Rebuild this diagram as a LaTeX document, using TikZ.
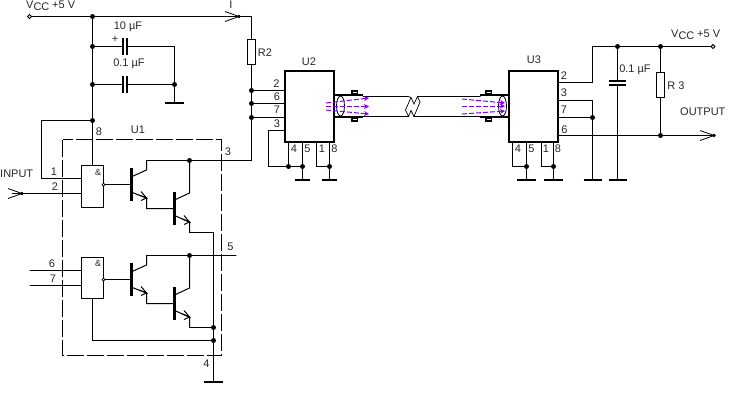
\documentclass[tikz,border=0pt]{standalone}
\usepackage{fontspec}
\setmainfont{Liberation Sans}
\usetikzlibrary{arrows.meta,calc}
\definecolor{beamviolet}{RGB}{128,0,255}
\tikzset{
    wire/.style={line width=1pt, line cap=round, line join=miter},
    dot/.style={circle, fill=black, inner sep=0pt, minimum size=5pt},
    terminal/.style={circle, draw, fill=white, line width=0.9pt, inner sep=0pt, minimum size=3.8pt},
    chip/.style={draw, line width=2pt, inner sep=0pt},
    gatebox/.style={draw, line width=1pt, inner sep=0pt},
    resistor/.style={draw, fill=white, line width=1pt, inner sep=0pt, minimum width=8pt, minimum height=25pt},
    bubble/.style={circle, draw, fill=white, line width=0.7pt, inner sep=0pt, minimum size=3pt},
    lab/.style={inner sep=0pt, font=\fontsize{11}{13}\selectfont, text=black!85},
    plate/.style={line width=1.7pt},
    base/.style={line width=3pt},
    beam/.style={draw=beamviolet, line width=1pt, dash pattern=on 5pt off 2pt, -{Stealth[length=5pt,width=5pt]}}
}
% one open input or output arrow, tip at #1
\newcommand{\openarrow}[1]{
    \draw[line width=0.8pt] ($(#1)+(-14,-5)$) -- (#1) -- ($(#1)+(-14,5)$);
    \draw[line width=0.8pt] ($(#1)+(-10,0)$) -- (#1);
    \node[dot, minimum size=3.6pt] at (#1) {};
}
% one darlington pair, shifted down by #1
\newcommand{\darlington}[1]{
    \begin{scope}[shift={(0,#1)}]
        \draw[base] (131,168) -- (131,201);
        \draw[wire] (131,177) -- (146.5,170) -- (146.5,160.5);
        \draw[wire] (131,192) -- (146.5,198) -- (146.5,208.5) -- (174.5,208.5);
        \draw[base] (174.5,192) -- (174.5,225);
        \draw[wire] (174.5,200) -- (189.5,193) -- (189.5,160.5);
        \draw[wire] (174.5,215.5) -- (189.5,222) -- (189.5,232.5);
        \draw[line width=1pt] (139,195) -- (146.5,198) -- (141,191.5);
        \draw[line width=1pt] (141,200.5) -- (146.5,198);
        \draw[line width=1pt] (182,219) -- (189.5,222) -- (184,215.5);
        \draw[line width=1pt] (184,224.5) -- (189.5,222);
    \end{scope}
}
\newcommand{\gnd}[2]{\draw[line width=2pt] ($(#1)+(-#2,0)$) -- ($(#1)+(#2,0)$);}
\begin{document}
\begin{tikzpicture}[x=1pt, y=-1pt]
    \useasboundingbox (0,0) rectangle (730,400);
    % supply and decoupling
    \node[terminal] (vcc1) at (29.5,16.5) {};
    \node[dot] (top) at (92.5,16.5) {};
    \node[dot] (c1a) at (92.5,46.5) {};
    \node[dot] (c2a) at (92.5,84.5) {};
    \node[dot] (fb) at (92.5,120.5) {};
    \node[dot] (c2b) at (174.5,84.5) {};
    \coordinate (c1b) at (174.5,46.5);
    \coordinate (gndc) at (174.5,103);
    \coordinate (iarrow) at (239,16.5);
    \coordinate (rcorner) at (251.5,16.5);
    \node[resistor] (r2) at (251.5,51.5) {};
    \node[dot] (p2) at (251.5,90.5) {};
    \node[dot] (p6) at (251.5,103.5) {};
    \node[dot] (p7) at (251.5,117.5) {};
    \coordinate (rend) at (251.5,160.5);
    \draw[wire] (vcc1) -- (top) -- (iarrow) -- (rcorner) -- (r2.north);
    \draw[wire] (r2.south) -- (p2) -- (p6) -- (p7) -- (rend);
    \draw[wire] (top) -- (c1a) -- (c2a) -- (fb);
    \draw[wire] (c1a) -- (123,46.5) (127,46.5) -- (c1b) -- (c2b) -- (gndc);
    \draw[wire] (c2a) -- (123,84.5) (127,84.5) -- (c2b);
    \draw[plate] (123,37.5) -- (123,54.5) (127,37.5) -- (127,54.5);
    \draw[plate] (123,75.5) -- (123,92.5) (127,75.5) -- (127,92.5);
    \gnd{gndc}{9.5}
    \openarrow{iarrow}
    % U1
    \draw[line width=1pt, dash pattern=on 17pt off 3pt] (62.5,139.5) rectangle (221.5,355.5);
    \node[gatebox, minimum width=22pt, minimum height=42pt] (g1) at (92.5,186.5) {};
    \node[gatebox, minimum width=22pt, minimum height=41pt] (g2) at (92.5,278) {};
    \node[bubble] (b1) at (103.5,184.5) {};
    \node[bubble] (b2) at (103.5,279.5) {};
    \node[lab, font=\fontsize{9}{10}\selectfont] (and1) at (98,172) {\&};
    \node[lab, font=\fontsize{9}{10}\selectfont] (and2) at (98,263) {\&};
    \coordinate (fbl) at (41.5,120.5);
    \coordinate (fbd) at (41.5,178.5);
    \coordinate (in1) at (81.5,178.5);
    \coordinate (in2) at (81.5,193.5);
    \coordinate (in6) at (81.5,270.5);
    \coordinate (in7) at (81.5,285.5);
    \coordinate (inarrow) at (22,193.5);
    \coordinate (s6) at (30,270.5);
    \coordinate (s7) at (30,285.5);
    \draw[wire] (fb) -- (g1.north);
    \draw[wire] (fb) -- (fbl) -- (fbd) -- (in1);
    \draw[wire] (inarrow) -- (in2);
    \draw[wire] (s6) -- (in6) (s7) -- (in7);
    \openarrow{inarrow}
    \darlington{0}
    \darlington{95}
    \node[dot] (col1) at (189.5,160.5) {};
    \node[dot] (col2) at (189.5,255.5) {};
    \node[dot] (e2) at (213.5,327.5) {};
    \node[dot] (g2b) at (213.5,340.5) {};
    \coordinate (e1r) at (213.5,232.5);
    \coordinate (gndu) at (213.5,382);
    \coordinate (pin5) at (236,255.5);
    \draw[wire] (146.5,160.5) -- (col1) -- (rend);
    \draw[wire] (146.5,255.5) -- (col2) -- (pin5);
    \draw[wire] (189.5,232.5) -- (e1r) -- (e2) -- (g2b) -- (gndu);
    \draw[wire] (189.5,327.5) -- (e2);
    \draw[wire] (g2.south) -- (92.5,340.5) -- (g2b);
    \draw[wire] (b1) -- (131,184.5) (b2) -- (131,279.5);
    \gnd{gndu}{9.5}
    % U2
    \node[chip, minimum width=49pt, minimum height=70.5pt] (u2) at (309.5,106.3) {};
    \node[dot] (a4) at (288.5,166.5) {};
    \node[dot] (a5) at (302.5,166.5) {};
    \node[dot] (a8) at (329.5,166.5) {};
    \coordinate (g5) at (302.5,180);
    \coordinate (g8) at (329.5,180);
    \draw[wire] (p2) -- (285,90.5) (p6) -- (285,103.5) (p7) -- (285,117.5);
    \draw[wire] (285,130.5) -- (268.5,130.5) -- (268.5,166.5) -- (a4) -- (a5);
    \draw[wire] (288.5,142) -- (a4) (302.5,142) -- (a5) -- (g5);
    \draw[wire] (316.5,142) -- (316.5,166.5) -- (a8);
    \draw[wire] (329.5,142) -- (a8) -- (g8);
    \gnd{g5}{7.5} \gnd{g8}{7.5}
    % cable with its two plugs
    \draw[wire] (363,96.5) -- (408,96.5) (363,116.5) -- (408.5,116.5);
    \draw[wire] (417.5,96.5) -- (480,96.5) (414,116.5) -- (480,116.5);
    \draw[line width=0.7pt] (408,96.5) -- (411,97.5) -- (414,104) -- (417.5,96.5) -- (420,102) -- (414,116.5) -- (411,110.5) -- (408.5,116.5) -- (405.5,110) -- (411,97.5);
    \draw[line width=2pt] (334,95) -- (363,95) (334,117) -- (363,117);
    \draw[line width=2pt] (480,95) -- (509,95) (480,117) -- (509,117);
    \draw[line width=1.6pt, fill=white] (352,91) rectangle (357.5,94) (352,118) rectangle (357.5,121);
    \draw[line width=1.6pt, fill=white] (486,91) rectangle (491.5,94) (486,118) rectangle (491.5,121);
    \draw[line width=0.8pt] (340.5,106) ellipse (4 and 10);
    \draw[line width=0.8pt] (502.5,106) ellipse (4 and 10);
    \foreach \ya/\yb in {103/98, 106.5/106.5, 110/114} {
        \draw[beam] (326,\ya) -- (369,\yb);
    }
    \foreach \ya/\yb in {99/103, 106/106, 114/111} {
        \draw[beam] (462,\ya) -- (505,\yb);
    }
    % U3
    \node[chip, minimum width=49pt, minimum height=70.5pt] (u3) at (533.5,106.3) {};
    \node[dot] (b4) at (526.5,166.5) {};
    \node[dot] (b8) at (553.5,166.5) {};
    \node[dot] (cap3) at (617.5,46.5) {};
    \node[dot] (r3top) at (660.5,46.5) {};
    \node[terminal] (vcc2) at (713,46.5) {};
    \node[resistor] (r3) at (660.5,84.5) {};
    \node[dot] (r3bot) at (660.5,135.5) {};
    \node[dot] (p37) at (592.5,117.5) {};
    \coordinate (oarrow) at (714,135.5);
    \coordinate (g4) at (526.5,180);
    \coordinate (g1b) at (553.5,180);
    \coordinate (g37) at (592.5,180);
    \coordinate (gcap) at (617.5,180);
    \draw[wire] (558,82.5) -- (592.5,82.5) -- (592.5,46.5) -- (cap3) -- (r3top) -- (vcc2);
    \draw[wire] (558,100.5) -- (592.5,100.5) -- (p37) -- (g37);
    \draw[wire] (558,117.5) -- (p37);
    \draw[wire] (558,135.5) -- (r3bot) -- (oarrow);
    \draw[wire] (r3top) -- (r3.north) (r3.south) -- (r3bot);
    \draw[wire] (cap3) -- (617.5,81) (617.5,85) -- (gcap);
    \draw[plate] (608.5,81) -- (625.5,81) (608.5,85) -- (625.5,85);
    \draw[wire] (512.5,142) -- (512.5,166.5) -- (b4) -- (g4) (526.5,142) -- (b4);
    \draw[wire] (541.5,142) -- (541.5,166.5) -- (b8) -- (g1b) (553.5,142) -- (b8);
    \gnd{g4}{9.5} \gnd{g1b}{9.5} \gnd{g37}{9} \gnd{gcap}{9}
    \openarrow{oarrow}
    % labels
    \node[lab, anchor=west] (lvcc1) at (26,6) {V\raisebox{-2pt}{CC}};
    \node[lab, anchor=west] (lv1) at (52,4.5) {+5 V};
    \node[lab] (li) at (231,4.5) {I};
    \node[lab] (l10u) at (128,27) {10 µF};
    \node[lab] (lplus) at (115,39) {+};
    \node[lab] (l01u) at (129,64) {0.1 µF};
    \node[lab] (lr2) at (265,53) {R2};
    \node[lab] (lu1) at (138,130) {U1};
    \node[lab, anchor=west] (linput) at (0,174) {INPUT};
    \node[lab] (lu2) at (309,62) {U2};
    \node[lab] (lu3) at (534,60) {U3};
    \node[lab, anchor=west] (lvcc2) at (671,35) {V\raisebox{-2pt}{CC}};
    \node[lab, anchor=west] (lv2) at (697,34) {+5 V};
    \node[lab] (l01r) at (635,70) {0.1 µF};
    \node[lab] (lr3) at (676,86) {R 3};
    \node[lab, anchor=west] (loutput) at (680,112) {OUTPUT};
    \foreach \txt/\px/\py in {8/99/132, 3/228/152, 1/54/172, 2/55/187, 6/52/264, 7/53/279, 5/230.5/247, 4/206.5/364,
        2/276.5/84, 6/277/97, 7/277/110, 3/277/124, 4/294/149, 5/307.5/149, 1/322/149, 8/334.5/149,
        2/564/76, 3/564/93, 7/564/110, 6/564.5/130, 4/518/149, 5/531.5/149, 1/546/149, 8/558/149} {
        \node[lab] at (\px,\py) {\txt};
    }
\end{tikzpicture}
\end{document}
